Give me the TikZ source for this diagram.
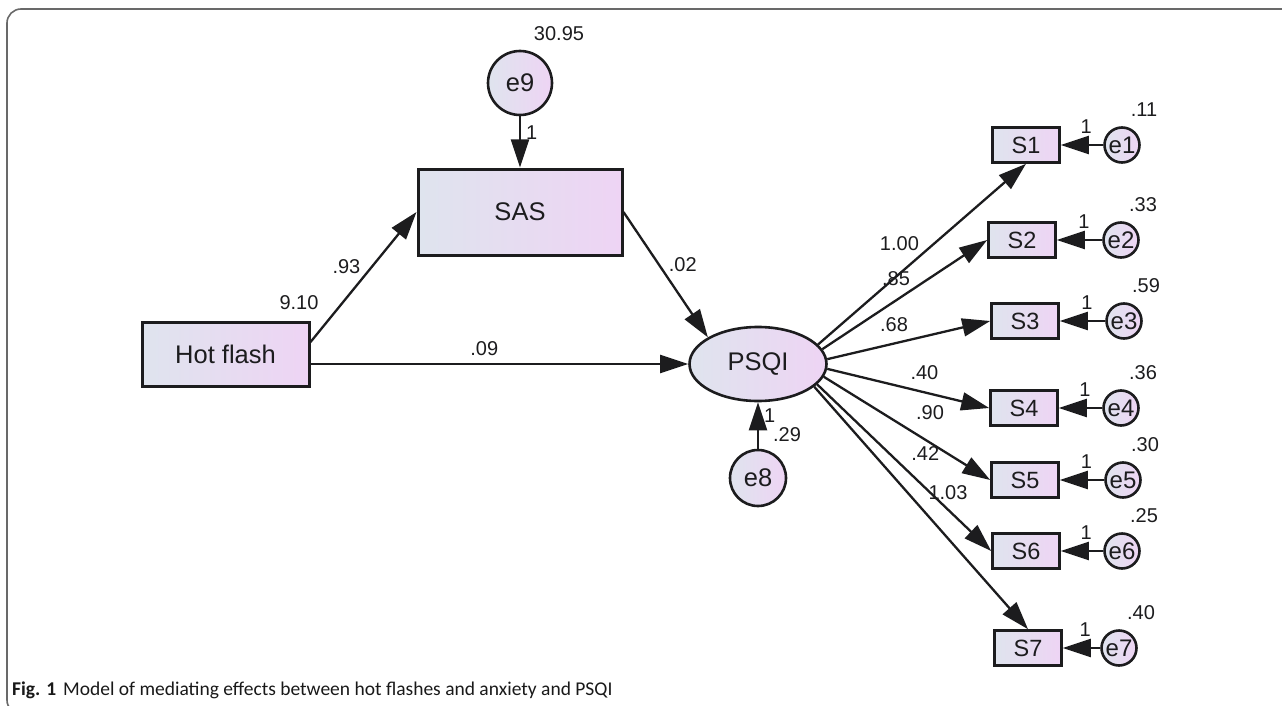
\documentclass[tikz,border=0pt]{standalone}
\usepackage{fontspec}
\setmainfont{Liberation Sans}
\newfontfamily\capfont{Carlito}
\usetikzlibrary{arrows.meta,positioning,shapes.geometric}
\definecolor{inkcol}{RGB}{28,28,30}
\definecolor{shadeL}{RGB}{223,228,238}
\definecolor{shadeR}{RGB}{238,212,244}
\definecolor{framecol}{RGB}{105,105,105}

\begin{document}
\begin{tikzpicture}[x=1pt,y=-1pt,>={Triangle[length=28pt,width=18pt]},
  every node/.style={font=\fontsize{20}{23}\selectfont,text=inkcol,inner sep=2pt},
  obs/.style={draw=inkcol,line width=3pt,left color=shadeL,right color=shadeR,font=\fontsize{25.5}{30}\selectfont},
  ind/.style={obs,line width=2.6pt,minimum width=67pt,minimum height=35pt,font=\fontsize{23.5}{28}\selectfont},
  latent/.style={obs,ellipse,line width=2.6pt,minimum width=137pt,minimum height=74pt},
  err/.style={obs,circle,line width=2.6pt,inner sep=0pt},
  serr/.style={err,minimum size=35pt,font=\fontsize{24}{28}\selectfont},
  arrow/.style={->,line width=2.3pt,draw=inkcol}]
\useasboundingbox (0,0) rectangle (1282,706);
\draw[framecol,line width=1.6pt,rounded corners=14pt] (7,9) rectangle (1300,714);
% structural part
\node[obs,minimum width=167pt,minimum height=64pt] (hotflash) at (225.5,354) {Hot flash};
\node[obs,minimum width=204pt,minimum height=86pt] (sas) at (520,212) {SAS};
\node[latent] (psqi) at (758,364) {PSQI};
\node[err,minimum size=64pt] (e9) at (520,83) {e9};
\node[err,minimum size=56pt] (e8) at (758,478) {e8};
\node (v9) at (559,34) {30.95}; \node (vhot) at (299,303) {9.10}; \node (v8) at (787,435) {.29};
\draw[arrow] (hotflash.8) -- node[pos=.5,above left] (c93) {.93} (sas.west);
\draw[arrow] (hotflash.east |- psqi.west) -- node[pos=.46,above=5pt] (c09) {.09} (psqi.west);
\draw[arrow] (sas.east) -- node[pos=.5,above right] (c02) {.02} (psqi.152);
\draw[arrow] (e9) -- node[pos=.31,right=3pt] (o9) {1} (sas);
\draw[arrow] (e8) -- node[pos=.71,right=3pt] (o8) {1} (psqi);
% measurement part
\node[ind] (s1) at (1026,145) {S1}; \node[serr] (e1) at (1122,145) {e1};
\node[ind] (s2) at (1022,240) {S2}; \node[serr] (e2) at (1121,240) {e2};
\node[ind] (s3) at (1025,321) {S3}; \node[serr] (e3) at (1124,321) {e3};
\node[ind] (s4) at (1024,408) {S4}; \node[serr] (e4) at (1121,408) {e4};
\node[ind] (s5) at (1025,480) {S5}; \node[serr] (e5) at (1123,480) {e5};
\node[ind] (s6) at (1026,551) {S6}; \node[serr] (e6) at (1122,551) {e6};
\node[ind] (s7) at (1028,648) {S7}; \node[serr] (e7) at (1119,648) {e7};
\node (v1) at (1144,110) {.11}; \node (v2) at (1143,205) {.33}; \node (v3) at (1146,286) {.59};
\node (v4) at (1143,373) {.36}; \node (v5) at (1145,445) {.30}; \node (v6) at (1144,516) {.25};
\node (v7) at (1141,613) {.40};
\draw[arrow] (e1) -- node[pos=.4,above=8pt] (o1) {1} (s1); \draw[arrow] (e2) -- node[pos=.4,above=8pt] (o2) {1} (s2);
\draw[arrow] (e3) -- node[pos=.4,above=8pt] (o3) {1} (s3); \draw[arrow] (e4) -- node[pos=.4,above=8pt] (o4) {1} (s4);
\draw[arrow] (e5) -- node[pos=.4,above=8pt] (o5) {1} (s5); \draw[arrow] (e6) -- node[pos=.4,above=8pt] (o6) {1} (s6);
\draw[arrow] (e7) -- node[pos=.4,above=8pt] (o7) {1} (s7);
\draw[arrow] (psqi.18) -- node[pos=.5,above left] (c1) {1.00} (s1.south);
\draw[arrow] (psqi.13) -- node[pos=.55,above left] (c2) {.85} (s2.west);
\draw[arrow] (psqi.4) -- node[pos=.41,above=9pt] (c3) {.68} (s3.west);
\draw[arrow] (psqi.-4) -- node[pos=.6,above=9pt] (c4) {.40} (s4.west);
\draw[arrow] (psqi.-11) -- node[pos=.5,above right,xshift=6pt,yshift=6pt] (c5) {.90} (s5.west);
\draw[arrow] (psqi.-19) -- node[pos=.5,above right,xshift=4pt,yshift=4pt] (c6) {.42} (s6.west);
\draw[arrow] (psqi.-22) -- node[pos=.52,above right,yshift=10pt] (c7) {1.03} (s7.north);
\node[anchor=base west,inner sep=0pt,font=\capfont\fontsize{19.5}{22}\selectfont,text=black!90] (caption) at (12,695)
  {\textbf{Fig. 1}\hspace{7pt}Model of mediating effects between hot flashes and anxiety and PSQI};
\end{tikzpicture}
\end{document}
